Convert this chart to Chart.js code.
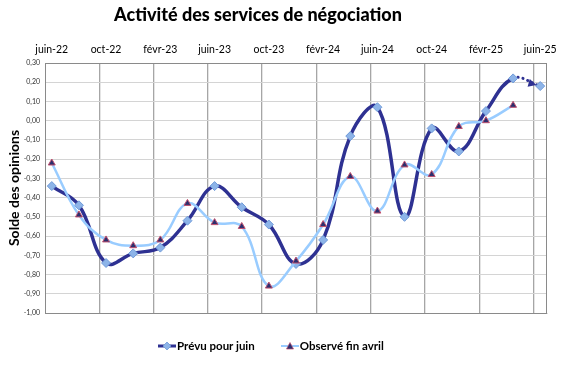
<!DOCTYPE html>
<html>
<head>
<meta charset="utf-8">
<script src="https://cdn.jsdelivr.net/npm/chart.js@4.4.1/dist/chart.umd.min.js"></script>
<style>
  html, body { margin:0; padding:0; background:#fff; }
  #wrap { position:relative; width:576px; height:365px; font-family:Lato, "Open Sans", sans-serif; }
  #title { position:absolute; left:0; top:3px; width:516px; text-align:center; font-weight:900; font-size:18px; color:#000; }
  #legend { position:absolute; top:339px; left:158px; display:flex; font-weight:bold; font-size:11.5px; color:#000; }
  #legend .item { display:flex; align-items:center; margin-right:26px; }
  #legend svg { margin-right:1px; }
</style>
</head>
<body>
<div id="wrap">
  <canvas id="chart"></canvas>
  <div id="title">Activité des services de négociation</div>
  <div id="legend">
    <div class="item">
      <svg width="18" height="10"><line x1="0" y1="5" x2="18" y2="5" stroke="#2E3192" stroke-width="3"/><polygon points="9,1 13,5 9,9 5,5" fill="#8DB4E8" stroke="#6F9AD8" stroke-width="0.8"/></svg>
      <span>Prévu pour juin</span>
    </div>
    <div class="item">
      <svg width="18" height="10"><line x1="0" y1="5" x2="18" y2="5" stroke="#99CCFF" stroke-width="2"/><polygon points="9,1.5 12.5,8 5.5,8" fill="#2B2F6E" stroke="#C0506E" stroke-width="0.7"/></svg>
      <span>Observé fin avril</span>
    </div>
  </div>
</div>
<script>
// every two months, juin-22 -> juin-25
const periods = ['juin-22','août-22','oct-22','déc-22','févr-23','avr-23','juin-23','août-23','oct-23','déc-23',
                 'févr-24','avr-24','juin-24','août-24','oct-24','déc-24','févr-25','avr-25','juin-25'];
const monthIdx = [0,2,4,6,8,10,12,14,16,18,20,22,24,26,28,30,32,34,36];
const prevu   = [-0.34,-0.44,-0.74,-0.69,-0.66,-0.52,-0.34,-0.45,-0.54,-0.745,-0.62,-0.08,0.07,-0.50,-0.04,-0.16,0.05,0.22,0.18];
const observe = [-0.22,-0.49,-0.62,-0.65,-0.62,-0.43,-0.53,-0.55,-0.86,-0.73,-0.54,-0.29,-0.47,-0.23,-0.28,-0.03,0.00,0.08,null];
const topTickMonths = [0,4,8,12,16,20,24,28,32,36];
const topTickLabels = ['juin-22','oct-22','févr-23','juin-23','oct-23','févr-24','juin-24','oct-24','févr-25','juin-25'];
const gridMonths = [3.5,7.5,11.5,15.5,19.5,23.5,27.5,31.5,35.5];

const NAVY = '#2E3192', LIGHT = '#99CCFF';

const framePlugin = {
  id:'frame',
  beforeDatasetsDraw(chart){
    const {ctx, chartArea:a} = chart;
    ctx.save();
    ctx.strokeStyle = '#8a8a8a'; ctx.lineWidth = 1;
    ctx.strokeRect(a.left+0.5, a.top+0.5, a.right-a.left-1, a.bottom-a.top);
    ctx.restore();
  }
};
const arrowPlugin = {
  id:'arrow',
  afterDatasetsDraw(chart){
    const pts = chart.getDatasetMeta(0).data;
    const a = pts[pts.length-2], b = pts[pts.length-1];
    const ang = Math.atan2(b.y-a.y, b.x-a.x);
    const tx = b.x - 4*Math.cos(ang), ty = b.y - 4*Math.sin(ang);
    const ctx = chart.ctx;
    ctx.save();
    ctx.translate(tx, ty); ctx.rotate(ang);
    ctx.fillStyle = NAVY;
    ctx.beginPath(); ctx.moveTo(0,0); ctx.lineTo(-8,-4); ctx.lineTo(-8,4); ctx.closePath(); ctx.fill();
    ctx.restore();
  }
};

new Chart(document.getElementById('chart'), {
  type:'line',
  data:{
    datasets:[
      {
        label:'Prévu pour juin',
        data: monthIdx.map((m,i)=>({x:m, y:prevu[i]})),
        borderColor:NAVY, borderWidth:3.5, tension:0.4,
        pointStyle:'rectRot', pointRadius:4.5, pointBackgroundColor:'#8DB4E8', pointBorderColor:'#6F9AD8', pointBorderWidth:1,
        segment:{
          borderDash: c => c.p0DataIndex === prevu.length-2 ? [0.1,5] : undefined,
          borderWidth: c => c.p0DataIndex === prevu.length-2 ? 3 : undefined
        },
        borderCapStyle:'round',
        order:1
      },
      {
        label:'Observé fin avril',
        data: monthIdx.map((m,i)=>({x:m, y:observe[i]})),
        borderColor:LIGHT, borderWidth:2.5, tension:0.4,
        pointStyle:'triangle', pointRadius:4, pointBackgroundColor:'#2B2F6E', pointBorderColor:'#C0506E', pointBorderWidth:1,
        order:0
      }
    ]
  },
  options:{
    responsive:true, maintainAspectRatio:false, animation:false,
    layout:{ padding:{left:0, right:29, top:0, bottom:52} },
    plugins:{ legend:{display:false}, title:{display:false}, tooltip:{enabled:false} },
    scales:{
      x:{
        type:'linear', position:'top', min:-0.5, max:36.5,
        afterBuildTicks: s => { s.ticks = topTickMonths.map(v=>({value:v})); },
        afterFit: s => { s.height = 63; },
        ticks:{ autoSkip:false, maxRotation:0, padding:7, color:'#000', font:{family:'Lato', size:10.5},
                callback: v => topTickLabels[topTickMonths.indexOf(v)] },
        grid:{ display:false, drawTicks:false },
        border:{ display:false }
      },
      xg:{
        type:'linear', position:'bottom', min:-0.5, max:36.5,
        afterBuildTicks: s => { s.ticks = gridMonths.map(v=>({value:v})); },
        afterFit: s => { s.height = 0; },
        ticks:{ display:false },
        grid:{ color:'#a6a6a6', lineWidth:1.3, drawTicks:false },
        border:{ color:'#8a8a8a' }
      },
      y:{
        min:-1, max:0.3,
        afterFit: s => { s.width = 45; },
        ticks:{ stepSize:0.1, padding:5, color:'#333', font:{family:'Lato', size:7},
                callback: v => (Math.round(v*100)/100).toFixed(2).replace('.', ',') },
        grid:{ color:'#d4d4d4', lineWidth:1, drawTicks:false },
        border:{ color:'#8a8a8a' },
        title:{ display:true, text:'Solde des opinions', color:'#000', font:{family:'Lato', size:14, weight:'bold'}, padding:{top:6, bottom:0} }
      }
    }
  },
  plugins:[framePlugin, arrowPlugin]
});
</script>
</body>
</html>
